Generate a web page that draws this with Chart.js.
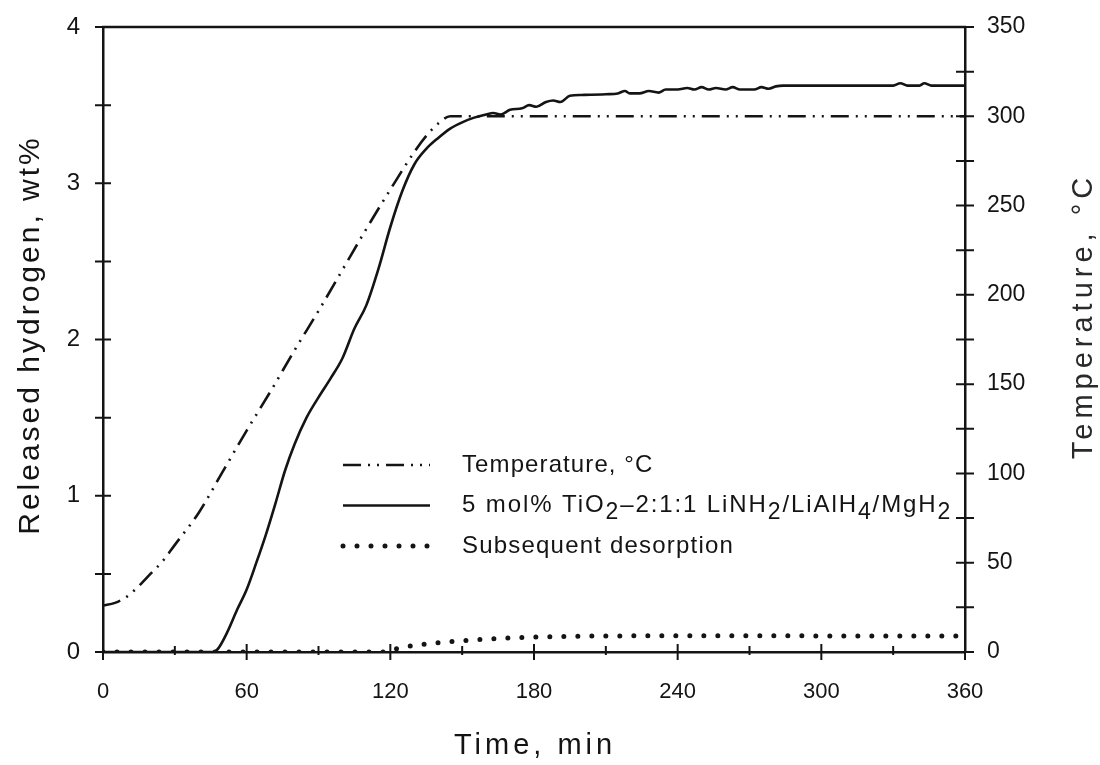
<!DOCTYPE html>
<html>
<head>
<meta charset="utf-8">
<script src="https://cdn.jsdelivr.net/npm/chart.js@4.4.1/dist/chart.umd.min.js"></script>
<style>
  html, body { margin: 0; padding: 0; background: #fff; }
  #wrap { width: 1100px; height: 765px; }
</style>
</head>
<body>
<div id="wrap"><canvas id="chart" width="1100" height="765"></canvas></div>
<script>
/* -------------------------------------------------------
   Data
------------------------------------------------------- */
// Temperature programme (right axis, °C)
const tempTime = [0, 5, 10, 15, 20, 25, 30, 40, 50, 60, 70, 80, 90, 100, 110, 120, 130, 135, 140, 145, 360];
const tempC    = [26, 27.5, 31, 37, 44, 51, 60, 78, 101, 124, 146, 169, 191, 214, 237, 259, 280, 289, 296, 300, 300];

// 5 mol% TiO2 sample (left axis, wt%)
const h2Time = [0, 46, 48, 52, 56, 60, 64, 68, 72, 76, 80, 85, 90, 95, 100, 105, 110, 115, 120, 125,
                130, 135, 140, 145, 150, 155, 160, 163, 166, 170, 175, 178, 181, 185, 188, 191, 195, 200,
                210, 215, 218, 220, 224, 228, 232, 235, 240, 244, 247, 250, 253, 256, 260, 263, 266, 272,
                275, 278, 281, 284, 300, 330, 333, 336, 341, 343, 346, 360];
const h2Wt   = [0, 0, 0.02, 0.13, 0.27, 0.40, 0.57, 0.75, 0.95, 1.16, 1.33, 1.50, 1.63, 1.75, 1.88, 2.07, 2.22, 2.45, 2.72, 2.95,
                3.12, 3.22, 3.29, 3.35, 3.39, 3.42, 3.44, 3.45, 3.44, 3.47, 3.48, 3.50, 3.49, 3.52, 3.53, 3.52, 3.56, 3.565,
                3.57, 3.575, 3.59, 3.575, 3.575, 3.59, 3.58, 3.60, 3.60, 3.61, 3.60, 3.615, 3.60, 3.61, 3.60, 3.615, 3.60, 3.60,
                3.615, 3.605, 3.62, 3.625, 3.625, 3.625, 3.64, 3.625, 3.625, 3.64, 3.625, 3.625];

// Subsequent desorption (left axis, wt%)
const desTime = [0, 118, 121, 125, 130, 135, 140, 150, 160, 170, 180, 190, 200, 215, 230, 260, 300, 330, 360];
const desWt   = [0, 0, 0.015, 0.03, 0.042, 0.052, 0.06, 0.072, 0.082, 0.09, 0.095, 0.099, 0.101, 0.103, 0.104, 0.104, 0.103, 0.102, 0.102];

// Axis texts
const xTitle = "Time, min";
const yLeftTitle = "Released hydrogen, wt%";
const yRightTitle = "Temperature, \u00B0C";

// Legend labels, [text, isSubscript]
const legendTemp   = [["Temperature, \u00B0C", 0]];
const legendSample = [["5 mol% TiO", 0], ["2", 1], ["\u20132:1:1 LiNH", 0], ["2", 1], ["/LiAlH", 0], ["4", 1], ["/MgH", 0], ["2", 1]];
const legendDesorp = [["Subsequent desorption", 0]];

const toXY = (xs, ys) => xs.map((x, i) => ({ x, y: ys[i] }));

const INK = "#141414";
const FONT = "'Liberation Sans', Arial, sans-serif";

/* -------------------------------------------------------
   Frame, crossing ticks, axis titles and in-plot legend
------------------------------------------------------- */
function drawTitle(ctx, text, x, y, angle, size, spacing, color) {
    ctx.save();
    ctx.translate(x, y);
    ctx.rotate(angle);
    ctx.font = size + "px " + FONT;
    ctx.letterSpacing = spacing + "px";
    ctx.fillStyle = color;
    ctx.textAlign = "center";
    ctx.textBaseline = "middle";
    ctx.fillText(text, spacing / 2, 0);
    ctx.letterSpacing = "0px";
    ctx.restore();
}

const frameAndTicks = {
    id: "frameAndTicks",
    afterDatasetsDraw(chart) {
        const { ctx, chartArea: a, scales } = chart;
        ctx.save();
        ctx.strokeStyle = INK;
        ctx.lineWidth = 2.5;
        ctx.setLineDash([]);

        // top border
        ctx.beginPath();
        ctx.moveTo(a.left - 1, a.top);
        ctx.lineTo(a.right + 1, a.top);
        ctx.stroke();

        ctx.lineWidth = 2;
        ctx.beginPath();
        scales.x.ticks.forEach(t => {
            const px = scales.x.getPixelForValue(t.value);
            const major = t.value % 60 === 0;
            ctx.moveTo(px, a.bottom - (major ? 8 : 6));
            ctx.lineTo(px, a.bottom + (major ? 8 : 3));
        });
        scales.y.ticks.forEach(t => {
            const py = scales.y.getPixelForValue(t.value);
            ctx.moveTo(a.left - 8, py);
            ctx.lineTo(a.left + 8, py);
        });
        scales.y1.ticks.forEach(t => {
            const py = scales.y1.getPixelForValue(t.value);
            ctx.moveTo(a.right - 9, py);
            ctx.lineTo(a.right + 9, py);
        });
        ctx.stroke();
        ctx.restore();
    },
    afterDraw(chart) {
        const { ctx, chartArea: a } = chart;

        // axis titles (spaced out like the scanned figure)
        const midY = (a.top + a.bottom) / 2;
        drawTitle(ctx, yLeftTitle, 31, midY - 3, -Math.PI / 2, 30, 3, INK);
        drawTitle(ctx, yRightTitle, 1084, midY - 21, -Math.PI / 2, 29, 5, "#2a2a2a");
        drawTitle(ctx, xTitle, (a.left + a.right) / 2 - 1, 746, 0, 29, 4, INK);

        // legend
        const rows = [legendTemp, legendSample, legendDesorp];
        const spacing = [1.1, 1.9, 1.2];
        const x0 = a.left + 240, x1 = a.left + 327, tx = a.left + 359;
        ctx.save();
        rows.forEach((parts, i) => {
            const ds = chart.data.datasets[i];
            const y = a.top + 438 + i * 40.5;
            ctx.strokeStyle = ds.borderColor;
            ctx.lineWidth = ds.borderWidth;
            ctx.lineCap = ds.borderCapStyle || "butt";
            ctx.setLineDash(ds.borderDash || []);
            ctx.beginPath();
            ctx.moveTo(x0, y);
            ctx.lineTo(x1, y);
            ctx.stroke();

            ctx.fillStyle = INK;
            ctx.textBaseline = "middle";
            ctx.textAlign = "left";
            ctx.letterSpacing = spacing[i] + "px";
            let x = tx;
            parts.forEach(([txt, sub]) => {
                ctx.font = (sub ? "23px " : "24px ") + FONT;
                ctx.fillText(txt, x, sub ? y + 7 : y);
                x += ctx.measureText(txt).width;
            });
        });
        ctx.letterSpacing = "0px";
        ctx.restore();
    }
};

/* -------------------------------------------------------
   Chart
------------------------------------------------------- */
const datasets = [
    {
        label: "Temperature",
        data: toXY(tempTime, tempC),
        yAxisID: "y1",
        borderColor: INK,
        borderWidth: 2.6,
        borderDash: [18, 7, 2, 7, 2, 7],
        cubicInterpolationMode: "monotone",
        pointRadius: 0
    },
    {
        label: "5 mol% TiO2-2:1:1 LiNH2/LiAlH4/MgH2",
        data: toXY(h2Time, h2Wt),
        yAxisID: "y",
        borderColor: INK,
        borderWidth: 2.6,
        cubicInterpolationMode: "monotone",
        pointRadius: 0
    },
    {
        label: "Subsequent desorption",
        data: toXY(desTime, desWt),
        yAxisID: "y",
        borderColor: INK,
        borderWidth: 5,
        borderDash: [0, 14],
        borderCapStyle: "round",
        cubicInterpolationMode: "monotone",
        pointRadius: 0
    }
];

// fixed box sizes so the plot area sits where the original has it
const fixVertical = w => s => { s.width = w; s.paddingTop = 0; s.paddingBottom = 0; };

new Chart(document.getElementById("chart"), {
    type: "line",
    data: { datasets },
    plugins: [frameAndTicks],
    options: {
        responsive: false,
        animation: false,
        layout: { padding: { top: 27, left: 0, right: 0, bottom: 0 } },
        plugins: {
            legend: { display: false },
            tooltip: { enabled: false }
        },
        scales: {
            x: {
                type: "linear",
                min: 0,
                max: 360,
                afterFit: s => { s.height = 113; s.paddingLeft = 0; s.paddingRight = 0; },
                grid: { display: false, drawTicks: false },
                border: { display: true, color: INK, width: 2.5 },
                ticks: {
                    stepSize: 30,
                    padding: 27,
                    color: INK,
                    maxRotation: 0,
                    font: { family: FONT, size: 22 },
                    callback: v => (v % 60 === 0 ? v : "")
                }
            },
            y: {
                position: "left",
                min: 0,
                max: 4,
                afterFit: fixVertical(103),
                grid: { display: false, drawTicks: false },
                border: { display: true, color: INK, width: 2.5 },
                ticks: {
                    stepSize: 0.5,
                    padding: 23,
                    color: INK,
                    font: { family: FONT, size: 24 },
                    callback: v => (Number.isInteger(v) ? v : "")
                }
            },
            y1: {
                position: "right",
                min: 0,
                max: 350,
                afterFit: fixVertical(135),
                grid: { display: false, drawTicks: false },
                border: { display: true, color: INK, width: 2.5 },
                ticks: {
                    stepSize: 25,
                    padding: 22,
                    color: INK,
                    font: { family: FONT, size: 23 },
                    callback: v => (v % 50 === 0 ? v : "")
                }
            }
        }
    }
});
</script>
</body>
</html>
